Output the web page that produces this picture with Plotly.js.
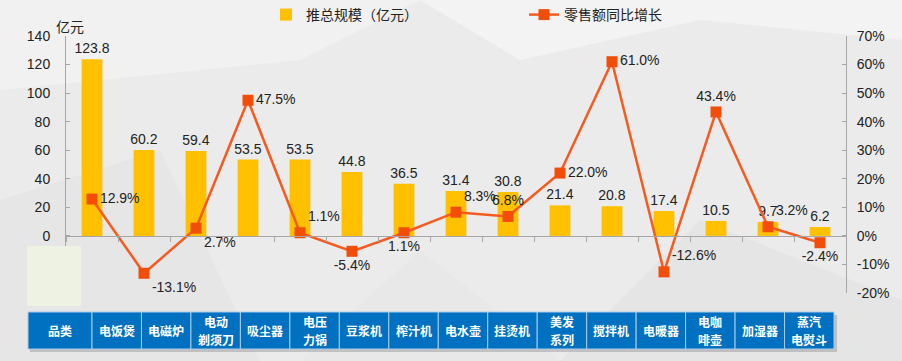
<!DOCTYPE html>
<html><head><meta charset="utf-8">
<script src="https://cdn.plot.ly/plotly-3.0.1.min.js"></script>
<style>html,body{margin:0;padding:0;background:#ebebeb;}#chart{width:902px;height:361px;}</style>
</head><body><div id="chart"></div>
<script>
var categories = ["电饭煲","电磁炉","电动<br>剃须刀","吸尘器","电压<br>力锅","豆浆机","榨汁机","电水壶","挂烫机","美发<br>系列","搅拌机","电暖器","电咖<br>啡壶","加湿器","蒸汽<br>电熨斗"];
var scaleValues = [123.8,60.2,59.4,53.5,53.5,44.8,36.5,31.4,30.8,21.4,20.8,17.4,10.5,9.7,6.2];
var growthValues = [12.9,-13.1,2.7,47.5,1.1,-5.4,1.1,8.3,6.8,22.0,61.0,-12.6,43.4,3.2,-2.4];
var leftTickValues = [0,20,40,60,80,100,120,140];
var rightTickValues = [-20,-10,0,10,20,30,40,50,60,70];
var tableHeader = "品类";
var barName = "推总规模（亿元）";
var lineName = "零售额同比增长";
var unitLabel = "亿元";

var FONT = "Liberation Sans, Arial, Noto Sans CJK SC, sans-serif";
var L = 66, R = 846, T = 36, B = 293;
function px(x){ return (x - L) / (R - L); }
function py(y){ return (B - y) / (B - T); }

var keys = categories.map(function(s){ return s.replace("<br>",""); });

var linePos = ["middle right","bottom right","bottom right","middle right","top right","bottom center","bottom center","top right","top center","middle right","middle right","top right","top center","top right","bottom center"];

var bar = {
  type: "bar", name: barName, x: keys, y: scaleValues,
  marker: {color: "#FFC000"}, width: 0.4,
  text: scaleValues.map(function(v){return v.toFixed(1);}),
  textposition: "outside", cliponaxis: false, constraintext: "none",
  textfont: {family: FONT, size: 14, color: "#222"},
  hoverinfo: "x+y"
};
var line = {
  type: "scatter", mode: "lines+markers+text", name: lineName, x: keys, y: growthValues, yaxis: "y2",
  line: {color: "#F65A1E", width: 2.5},
  marker: {symbol: "square", size: 11, color: "#F24E0A"},
  text: growthValues.map(function(v){return v.toFixed(1)+"%";}),
  textposition: linePos, cliponaxis: false,
  textfont: {family: FONT, size: 14, color: "#222"}
};

var shapes = [];
var polys = [
  ["M0,0 L420,0 L300,60 L0,90 Z", "#f1f1f1"],
  ["M420,0 L902,0 L902,40 L700,20 L520,60 Z", "#f3f3f3"],
  ["M0,200 L160,150 L260,361 L0,361 Z", "#e6e6e6"],
  ["M560,361 L700,220 L902,300 L902,361 Z", "#e5e5e5"],
  ["M300,361 L420,250 L560,361 Z", "#e8e8e8"]
];
polys.forEach(function(p){
  shapes.push({type:"path", xref:"paper", yref:"paper", path: p[0].replace(/(-?\d+),(-?\d+)/g, function(m,a,b){return px(+a)+","+py(+b);}), fillcolor:p[1], line:{width:0}, layer:"below"});
});
shapes.push({type:"rect", xref:"paper", yref:"paper", x0:px(27), x1:px(81), y0:py(306), y1:py(246), fillcolor:"#EEF2E3", line:{width:0}, layer:"above"});

var tableTop = 312, tableBot = 349;
var edges = [28, 92];
var cellW = (834 - 92) / categories.length;
for (var i = 1; i <= categories.length; i++) edges.push(92 + cellW * i);
var annotations = [];
shapes.push({type:"rect", xref:"paper", yref:"paper", x0:px(30), x1:px(837), y0:py(tableBot+3), y1:py(tableTop+3), fillcolor:"rgba(120,120,120,0.35)", line:{width:0}, layer:"above"});
var labels = [tableHeader].concat(categories);
var mid = (tableTop + tableBot) / 2;
for (var j = 0; j < labels.length; j++) {
  shapes.push({type:"rect", xref:"paper", yref:"paper", x0:px(edges[j]), x1:px(edges[j+1]), y0:py(tableBot), y1:py(tableTop), fillcolor:"#0070C0", line:{color:"#A9CBEA", width:1}, layer:"above"});
  var parts = labels[j].split("<br>");
  var cx = px((edges[j]+edges[j+1])/2);
  parts.forEach(function(t, k){
    var yc = parts.length === 1 ? mid : (k === 0 ? mid - 9 : mid + 9);
    annotations.push({xref:"paper", yref:"paper", x:cx, y:py(yc), text:"<b>"+t+"</b>", showarrow:false, borderpad:0, xanchor:"center", yanchor:"middle", font:{family:"Noto Sans CJK SC, sans-serif", size:12, color:"#fff"}});
  });
}
annotations.push({xref:"paper", yref:"paper", x:px(70), y:py(27), text:unitLabel, showarrow:false, xanchor:"center", yanchor:"middle", font:{family:FONT, size:14, color:"#222"}});

var layout = {
  width: 902, height: 361,
  margin: {l: L, r: 902 - R, t: T, b: 361 - B, pad: 0, autoexpand: false},
  paper_bgcolor: "#ebebeb", plot_bgcolor: "rgba(0,0,0,0)",
  font: {family: FONT, size: 14, color: "#222"},
  showlegend: true,
  legend: {orientation: "h", x: px(266), xanchor: "left", y: py(15), yanchor: "middle", entrywidth: 213, entrywidthmode: "pixels", font: {family: FONT, size: 14, color: "#222"}, bgcolor: "rgba(0,0,0,0)", traceorder: "normal"},
  xaxis: {type: "category", range: [-0.5, categories.length - 0.5], showticklabels: false, showgrid: false, zeroline: false, showline: true, linecolor: "#a6a6a6", linewidth: 1,
          ticks: "outside", ticklen: 5, tickcolor: "#a6a6a6", tickson: "boundaries", anchor: "free", position: 40/180, fixedrange: true},
  yaxis: {range: [-40, 140], tickvals: leftTickValues, ticktext: leftTickValues.map(String), showgrid: false, zeroline: false,
          showline: true, linecolor: "#a6a6a6", ticks: "inside", ticklen: 4, tickcolor: "#a6a6a6", ticklabelstandoff: 12,
          tickfont: {family: FONT, size: 14, color: "#222"}},
  yaxis2: {overlaying: "y", side: "right", range: [-20, 70], tickvals: rightTickValues, ticktext: rightTickValues.map(function(v){return v+"%";}),
           showgrid: false, zeroline: false, showline: true, linecolor: "#a6a6a6", ticks: "inside", ticklen: 4, tickcolor: "#a6a6a6",
           ticklabelstandoff: 7, tickfont: {family: FONT, size: 14, color: "#222"}},
  shapes: shapes, annotations: annotations
};
Plotly.newPlot("chart", [bar, line], layout, {displayModeBar: false, staticPlot: true});
</script></body></html>
